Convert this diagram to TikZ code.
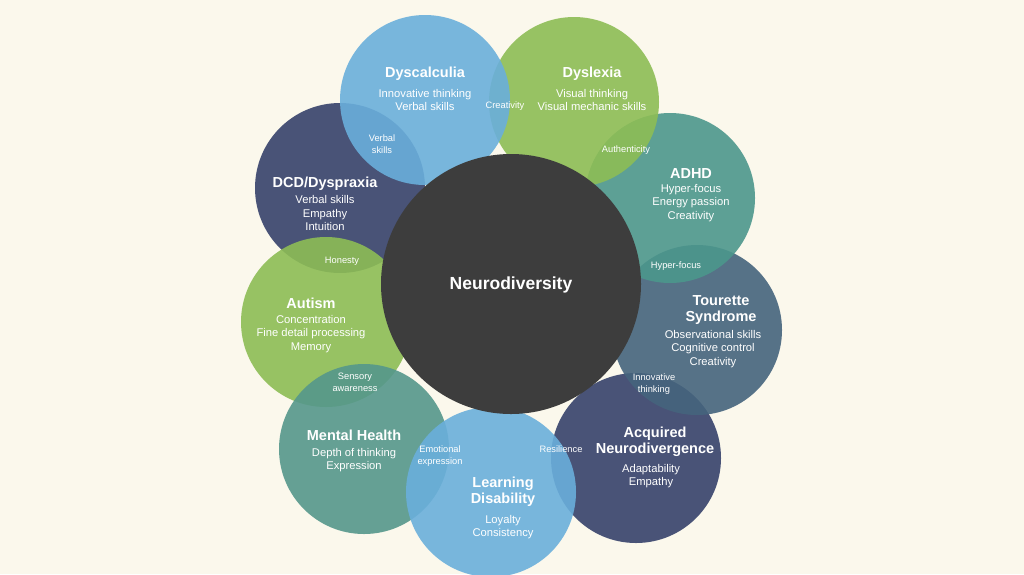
\documentclass[tikz,border=0pt]{standalone}
\usepackage{fontspec}
\setmainfont{Liberation Sans}
\begin{document}
\begin{tikzpicture}[x=1pt,y=-1pt,
  petal/.style={circle,minimum size=170pt,inner sep=0pt,fill opacity=0.9,text opacity=1},
  ttl/.style={text=white,font=\fontsize{14.5}{16}\selectfont\bfseries,align=center},
  bdy/.style={text=white,font=\fontsize{11.2}{13.5}\selectfont,align=center},
  ovl/.style={text=white,font=\fontsize{9.3}{12}\selectfont,align=center}]
\definecolor{bg}{HTML}{FBF8EC}
\definecolor{cblue}{HTML}{6AAFDB}
\definecolor{cgreen}{HTML}{8DBD55}
\definecolor{cteal}{HTML}{4C978C}
\definecolor{cslate}{HTML}{45647D}
\definecolor{cnavy}{HTML}{36426B}
\definecolor{cmh}{HTML}{55978B}
\definecolor{ccore}{HTML}{3D3D3D}
\fill[bg] (0,0) rectangle (1024,574);
\useasboundingbox (0,0) rectangle (1024,574);
\node[petal,fill=cnavy] (dcd) at (340,188) {};
\node[petal,fill=cgreen] (aut) at (326,322) {};
\node[petal,fill=cmh] (mh) at (364,449) {};
\node[petal,fill=cnavy] (acq) at (636,458) {};
\node[petal,fill=cblue] (ld) at (491,492) {};
\node[petal,fill=cslate] (tou) at (697,330) {};
\node[petal,fill=cteal] (adhd) at (670,198) {};
\node[petal,fill=cgreen] (dlx) at (574,102) {};
\node[petal,fill=cblue] (dsc) at (425,100) {};
\node[circle,fill=ccore,minimum size=260pt] (core) at (511,284) {};
\node[text=white,font=\fontsize{17.5}{20}\selectfont\bfseries] (ct) at (511,285) {Neurodiversity};
% titles and bodies
\node[ttl] (t1) at (425,74) {Dyscalculia};
\node[bdy] (b1) at (425,100) {Innovative thinking\\Verbal skills};
\node[ttl] (t2) at (592,74) {Dyslexia};
\node[bdy] (b2) at (592,100) {Visual thinking\\Visual mechanic skills};
\node[ttl] (t3) at (691,174) {ADHD};
\node[bdy] (b3) at (691,203) {Hyper-focus\\Energy passion\\Creativity};
\node[ttl] (t4) at (721,310) {Tourette\\Syndrome};
\node[bdy] (b4) at (713,349) {Observational skills\\Cognitive control\\Creativity};
\node[ttl] (t5) at (655,442) {Acquired\\Neurodivergence};
\node[bdy] (b5) at (651,476) {Adaptability\\Empathy};
\node[ttl] (t6) at (503,492) {Learning\\Disability};
\node[bdy] (b6) at (503,527) {Loyalty\\Consistency};
\node[ttl] (t7) at (354,435) {Mental Health};
\node[bdy] (b7) at (354,460) {Depth of thinking\\Expression};
\node[ttl] (t8) at (311,303) {Autism};
\node[bdy] (b8) at (311,334) {Concentration\\Fine detail processing\\Memory};
\node[ttl] (t9) at (325,184) {DCD/Dyspraxia};
\node[bdy] (b9) at (325,213) {Verbal skills\\Empathy\\Intuition};
% overlaps
\node[ovl] (o1) at (505,106) {Creativity};
\node[ovl] (o2) at (382,144) {Verbal\\skills};
\node[ovl] (o3) at (626,150) {Authenticity};
\node[ovl] (o4) at (676,266) {Hyper-focus};
\node[ovl] (o5) at (654,384) {Innovative\\thinking};
\node[ovl] (o6) at (561,449) {Resilience};
\node[ovl] (o7) at (440,456) {Emotional\\expression};
\node[ovl] (o8) at (355,382) {Sensory\\awareness};
\node[ovl] (o9) at (342,261) {Honesty};
\end{tikzpicture}
\end{document}
